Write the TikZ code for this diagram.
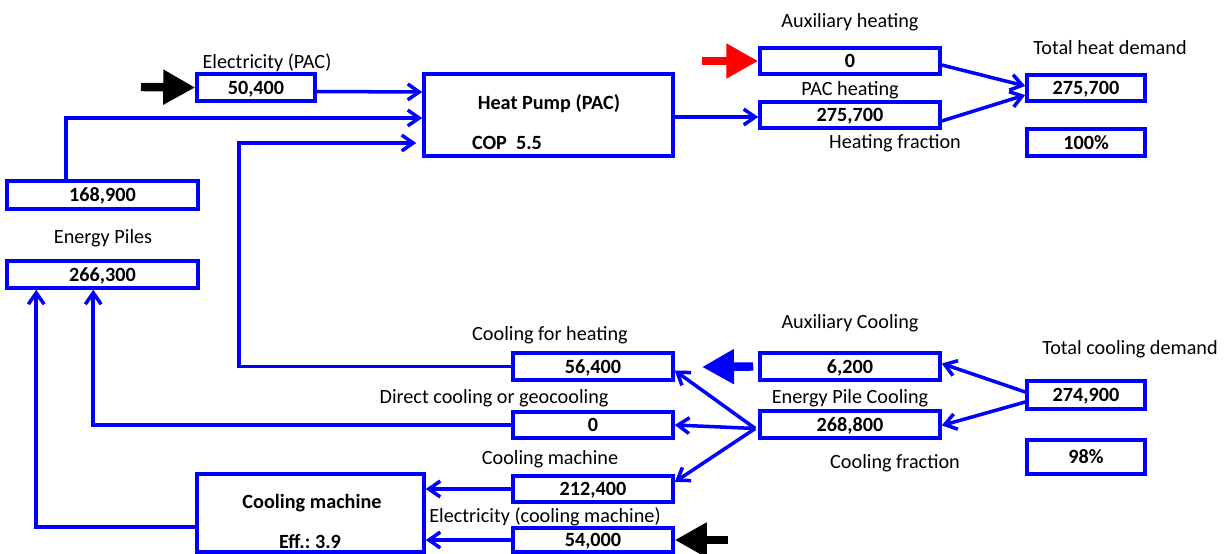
\documentclass[tikz,border=0pt]{standalone}
\usepackage{fontspec}
\setmainfont{Carlito}
\usetikzlibrary{arrows.meta,calc}
\definecolor{fblue}{RGB}{0,0,255}
\definecolor{fred}{RGB}{255,0,0}
\begin{document}
\begin{tikzpicture}[x=0.02cm,y=-0.02cm,
  every node/.style={font=\fontsize{11.5}{13}\selectfont, inner sep=0pt, text depth=0pt},
  box/.style 2 args={draw=fblue, line width=2pt, minimum width=#1*0.02cm, minimum height=#2*0.02cm, font=\fontsize{11.5}{13}\selectfont\bfseries},
  lbl/.style={text=black},
  blbl/.style={text=black, font=\fontsize{11.5}{13}\selectfont\bfseries},
  flow/.style={draw=fblue, line width=2pt, -{Straight Barb[length=6.5pt,width=9pt]}},
  bigarrow/.style={line width=4.8pt, -{Triangle[length=0.64cm,width=0.66cm]}},
]
\useasboundingbox (0,0) rectangle (1225,554);

% boxes
\node[box={118}{27}] (elec) at (256,87.5) {50,400};
\node[box={191}{28}] (b168) at (102.5,195) {168,900};
\node[box={191}{27}] (b266) at (102.5,274.5) {266,300};
\node[box={249}{82}] (hp) at (548.5,115) {};
\node[box={180}{26}] (auxh) at (850,61) {0};
\node[box={180}{26}] (pach) at (850,115) {275,700};
\node[box={118}{26}] (thd) at (1086,88) {275,700};
\node[box={118}{27}] (hf) at (1086,142.5) {100\%};
\node[box={180}{27}] (auxc) at (850,366.5) {6,200};
\node[box={180}{27}] (epc) at (850,424.5) {268,800};
\node[box={118}{28}] (tcd) at (1086,395) {274,900};
\node[box={118}{34}] (cf) at (1086,457) {98\%};
\node[box={160}{27}] (cfh) at (593,366.5) {56,400};
\node[box={160}{26}] (dc) at (593,425) {0};
\node[box={160}{26}] (cm) at (593,489) {212,400};
\node[box={160}{24}] (ecm) at (593,540) {54,000};
\node[box={227}{78}] (cmb) at (310.5,513) {};

% texts inside big boxes
\node[blbl] (hpt) at (549,102) {Heat Pump (PAC)};
\node[blbl] (cop) at (507,143) {COP\ \ 5.5};
\node[blbl] (cmt) at (312,501) {Cooling machine};
\node[blbl] (eff) at (310,541) {Eff.:\ 3.9};

% labels
\node[lbl] (l1) at (267,61) {Electricity (PAC)};
\node[lbl] (l2) at (103,236) {Energy Piles};
\node[lbl] (l3) at (850,20) {Auxiliary heating};
\node[lbl] (l4) at (850,88) {PAC heating};
\node[lbl] (l5) at (895,142) {Heating fraction};
\node[lbl] (l6) at (1110,47) {Total heat demand};
\node[lbl] (l7) at (850,321) {Auxiliary Cooling};
\node[lbl] (l8) at (850,396) {Energy Pile Cooling};
\node[lbl] (l9) at (895,461) {Cooling fraction};
\node[lbl] (l10) at (1130,347) {Total cooling demand};
\node[lbl] (l11) at (550,333) {Cooling for heating};
\node[lbl] (l12) at (494,396) {Direct cooling or geocooling};
\node[lbl] (l13) at (550,457) {Cooling machine};
\node[lbl] (l14) at (545,515) {Electricity (cooling machine)};

% coordinates
\coordinate (k1) at (239,143);
\coordinate (hub) at ($(epc.west)+(-3,4)$);
\coordinate (e1) at (141,87);
\coordinate (r1) at (702,61);
\coordinate (c1) at (702,367);
\coordinate (e2) at (728,540);

% connectors
\draw[flow] ($(elec.east)+(0,4)$) -- ($(hp.west)+(0,-23)$);
\draw[flow] ($(b168.north)+(-36.5,0)$) |- ($(hp.west)+(0,3)$);
\draw[flow] (cfh.west) -| (k1) -- ($(hp.west)+(-6,28)$);
\draw[flow] ($(hp.east)+(0,2)$) -- ($(pach.west)+(0,2)$);
\draw[flow] ($(auxh.east)+(0,4)$) -- ($(thd.west)+(0,-2)$);
\draw[flow] ($(pach.east)+(0,6)$) -- ($(thd.west)+(0,7)$);
\draw[flow] ($(tcd.west)+(0,-3)$) -- ($(auxc.east)+(0,-3)$);
\draw[flow] ($(tcd.west)+(0,7)$) -- ($(epc.east)+(0,1)$);
\draw[flow] (hub) -- ($(cfh.east)+(0,4)$);
\draw[flow] (hub) -- (dc.east);
\draw[flow] (hub) -- ($(cm.east)+(0,-7)$);
\draw[flow] (cm.west) -- (cm.west -| cmb.east);
\draw[flow] (ecm.west) -- (ecm.west -| cmb.east);
\draw[flow] ($(cmb.west)+(0,14)$) -| ($(b266.south west)+(31,0)$);
\draw[flow] (dc.west) -| ($(b266.south west)+(88,0)$);

% big arrows
\draw[bigarrow, black] (e1) -- (elec.west);
\draw[bigarrow, fred] (r1) -- (auxh.west);
\draw[bigarrow, fblue] ($(auxc.west)+(-5,0)$) -- (c1);
\draw[bigarrow, black] (e2) -- (ecm.east);
\end{tikzpicture}
\end{document}
